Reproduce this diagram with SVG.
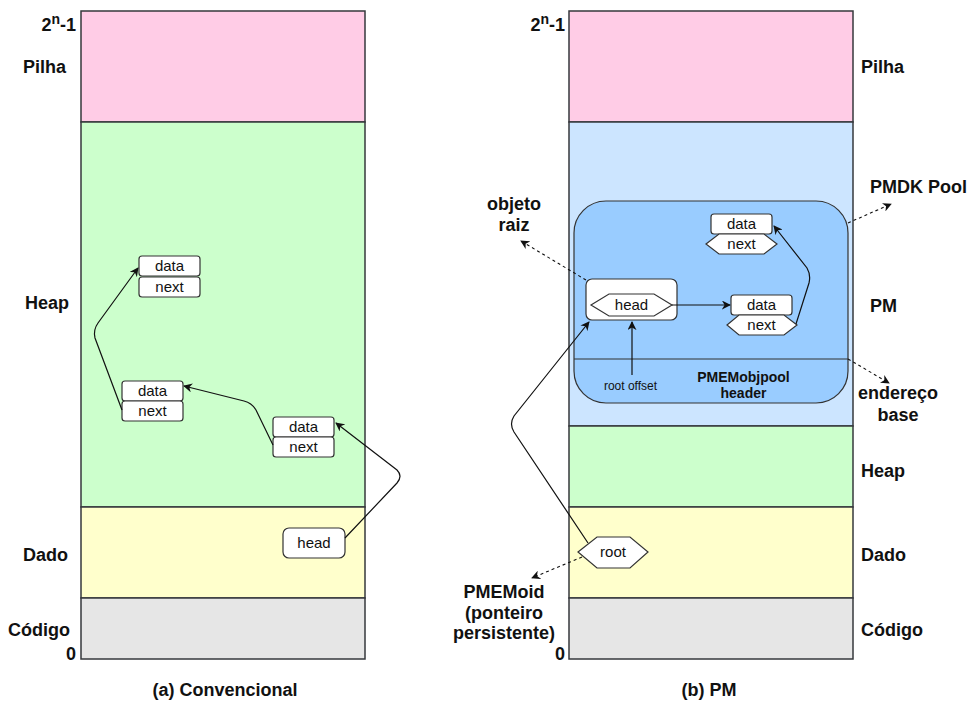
<svg xmlns="http://www.w3.org/2000/svg" width="969" height="702" viewBox="0 0 969 702">
  <style>
    text { font-family: "Liberation Sans", Arial, sans-serif; fill: #111; }
    .lbl { font-size: 18px; font-weight: bold; }
    .node { font-size: 15px; text-anchor: middle; }
    .band { stroke: #36393d; stroke-width: 1.5; }
    .box { fill: #fff; stroke: #333; stroke-width: 1.2; }
    .conn { fill: none; stroke: #111; stroke-width: 1.2; }
    .dash { fill: none; stroke: #111; stroke-width: 1.1; stroke-dasharray: 3 3; }
  </style>
  <defs>
    <marker id="arrow" viewBox="0 0 10 10" refX="9" refY="5" markerWidth="9" markerHeight="9" markerUnits="userSpaceOnUse" orient="auto">
      <path d="M0,0 L10,5 L0,10 L3,5 z" fill="#111"/>
    </marker>
  </defs>

  <!-- (a) conventional address space -->
  <g id="conv-memory">
    <rect class="band" x="81" y="11" width="284" height="111" fill="#FFCCE6"/>
    <rect class="band" x="81" y="122" width="284" height="385" fill="#CCFFCC"/>
    <rect class="band" x="81" y="507" width="284" height="91" fill="#FFFFCC"/>
    <rect class="band" x="81" y="598" width="284" height="61" fill="#E6E6E6"/>
  </g>
  <g id="conv-labels">
    <text class="lbl" x="76" y="31" text-anchor="end">2<tspan dy="-7" font-size="14">n</tspan><tspan dy="7">-1</tspan></text>
    <text class="lbl" x="23" y="73">Pilha</text>
    <text class="lbl" x="25" y="309">Heap</text>
    <text class="lbl" x="23" y="561">Dado</text>
    <text class="lbl" x="8" y="636">Código</text>
    <text class="lbl" x="76" y="660" text-anchor="end">0</text>
    <text class="lbl" x="225" y="696" text-anchor="middle">(a) Convencional</text>
  </g>

  <g id="conv-node1">
    <rect class="box" x="139" y="256" width="61" height="20" rx="3"/>
    <rect class="box" x="139" y="277" width="61" height="20" rx="3"/>
    <text class="node" x="169.5" y="271">data</text>
    <text class="node" x="169.5" y="292">next</text>
  </g>
  <g id="conv-node2">
    <rect class="box" x="122" y="381" width="61" height="20" rx="3"/>
    <rect class="box" x="122" y="401" width="61" height="20" rx="3"/>
    <text class="node" x="152.5" y="396">data</text>
    <text class="node" x="152.5" y="416">next</text>
  </g>
  <g id="conv-node3">
    <rect class="box" x="273" y="417" width="61" height="20" rx="3"/>
    <rect class="box" x="273" y="437" width="61" height="20" rx="3"/>
    <text class="node" x="303.5" y="432">data</text>
    <text class="node" x="303.5" y="452">next</text>
  </g>
  <g id="conv-head">
    <rect class="box" x="283" y="528" width="62" height="30" rx="6"/>
    <text class="node" x="314" y="548">head</text>
  </g>

  <!-- (b) persistent-memory address space -->
  <g id="pm-memory">
    <rect class="band" x="569" y="11" width="284" height="111" fill="#FFCCE6"/>
    <rect class="band" x="569" y="122" width="284" height="304" fill="#CCE5FF"/>
    <rect class="band" x="569" y="426" width="284" height="81" fill="#CCFFCC"/>
    <rect class="band" x="569" y="507" width="284" height="91" fill="#FFFFCC"/>
    <rect class="band" x="569" y="598" width="284" height="61" fill="#E6E6E6"/>
  </g>
  <g id="pm-labels">
    <text class="lbl" x="565" y="31" text-anchor="end">2<tspan dy="-7" font-size="14">n</tspan><tspan dy="7">-1</tspan></text>
    <text class="lbl" x="861" y="73">Pilha</text>
    <text class="lbl" x="870" y="193">PMDK Pool</text>
    <text class="lbl" x="870" y="312">PM</text>
    <text class="lbl" x="898" y="399" text-anchor="middle">endereço</text>
    <text class="lbl" x="898" y="421" text-anchor="middle">base</text>
    <text class="lbl" x="861" y="477">Heap</text>
    <text class="lbl" x="861" y="561">Dado</text>
    <text class="lbl" x="861" y="636">Código</text>
    <text class="lbl" x="565" y="660" text-anchor="end">0</text>
    <text class="lbl" x="514" y="210" text-anchor="middle">objeto</text>
    <text class="lbl" x="514" y="231" text-anchor="middle">raiz</text>
    <text class="lbl" x="504" y="598" text-anchor="middle">PMEMoid</text>
    <text class="lbl" x="504" y="619" text-anchor="middle">(ponteiro</text>
    <text class="lbl" x="504" y="639" text-anchor="middle">persistente)</text>
    <text class="lbl" x="709" y="696" text-anchor="middle">(b) PM</text>
  </g>

  <g id="pmdk-pool">
    <rect x="574" y="201" width="274" height="202" rx="32" fill="#99CCFF" stroke="#333" stroke-width="1.2"/>
    <line x1="574" y1="359" x2="848" y2="359" stroke="#333" stroke-width="1.2"/>
    <text x="743.5" y="382" text-anchor="middle" font-size="14" font-weight="bold">PMEMobjpool</text>
    <text x="743.5" y="398" text-anchor="middle" font-size="14" font-weight="bold">header</text>
    <text x="630.5" y="390" text-anchor="middle" font-size="12" fill="#222">root offset</text>
  </g>
  <g id="pm-root-object">
    <rect class="box" x="586" y="279" width="91" height="41" rx="6"/>
    <polygon class="box" points="591,305 609,294 654,294 672,305 654,316 609,316"/>
    <text class="node" x="631.5" y="310">head</text>
  </g>
  <g id="pm-node1">
    <rect class="box" x="731" y="295" width="61" height="20" rx="3"/>
    <polygon class="box" points="727,325 739,315 784,315 797,325 784,335 739,335"/>
    <text class="node" x="761.5" y="310">data</text>
    <text class="node" x="761.5" y="330">next</text>
  </g>
  <g id="pm-node2">
    <rect class="box" x="711" y="214" width="61" height="20" rx="3"/>
    <polygon class="box" points="706,244 719,234 764,234 777,244 764,254 719,254"/>
    <text class="node" x="741.5" y="229">data</text>
    <text class="node" x="741.5" y="249">next</text>
  </g>
  <g id="pm-root">
    <polygon class="box" points="578,552 597,537 630,537 648,552 630,568 597,568"/>
    <text class="node" x="613" y="557">root</text>
  </g>

  <g id="connectors">
    <!-- conventional list -->
    <path class="conn" d="M345,538 L397,483 Q403,476 397,470 L336,423" marker-end="url(#arrow)"/>
    <path class="conn" d="M273,445 L256,410 Q252,403 244,401 L184,386" marker-end="url(#arrow)"/>
    <path class="conn" d="M122,410 L95,338 Q93,330 98,323 L138,268" marker-end="url(#arrow)"/>
    <!-- persistent list -->
    <path class="conn" d="M672,305 L730,305" marker-end="url(#arrow)"/>
    <path class="conn" d="M796,324 L809,283 Q811,275 807,268 L774,226" marker-end="url(#arrow)"/>
    <path class="conn" d="M632,375 L632,322" marker-end="url(#arrow)"/>
    <path class="conn" d="M588,543 L514,432 Q509,424 514,416 L589,322" marker-end="url(#arrow)"/>
    <!-- annotations -->
    <path class="dash" d="M586,280 L521,241" marker-end="url(#arrow)"/>
    <path class="dash" d="M848,223 L891,204" marker-end="url(#arrow)"/>
    <path class="dash" d="M848,359 L889,383" marker-end="url(#arrow)"/>
    <path class="dash" d="M582,557 L532,578" marker-end="url(#arrow)"/>
  </g>
</svg>
